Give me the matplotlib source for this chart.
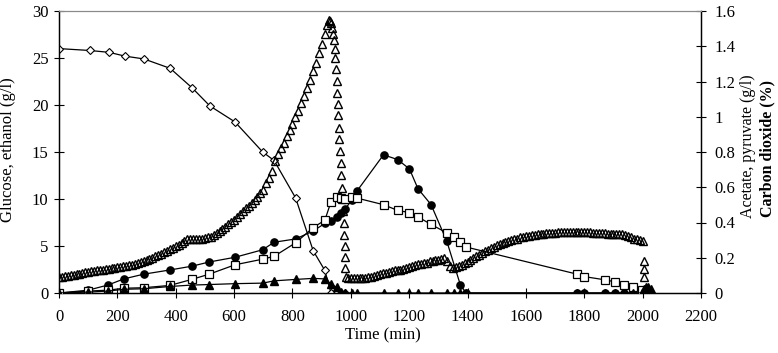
import numpy as np
import matplotlib
matplotlib.use("Agg")
import matplotlib.pyplot as plt

# ---------------- data ----------------
# sampling times (min) for off-line analyses
t_gluc = [0, 105, 172, 226, 291, 381, 457, 517, 603, 698, 737, 811, 871, 911, 932, 951, 966, 980]
glucose = [26.0, 25.8, 25.6, 25.2, 24.9, 23.9, 21.8, 19.9, 18.2, 15.0, 14.1, 10.1, 4.5, 2.4, 0, 0, 0, 0]

t_eth = [0, 100, 168, 222, 290, 380, 455, 515, 603, 698, 737, 811, 871, 911, 932, 951, 966, 980,
         1003, 1020, 1112, 1160, 1201, 1230, 1275, 1329, 1375, 1395,
         1775, 1800, 1870, 1904, 1935, 1967, 1998]
ethanol = [0, 0.3, 0.85, 1.5, 2.0, 2.45, 2.85, 3.3, 3.8, 4.6, 5.4, 5.75, 6.6, 7.4, 7.7, 8.05, 8.5, 8.9,
           9.9, 10.8, 14.7, 14.2, 13.2, 11.1, 9.4, 5.5, 0.9, 0,
           0, 0, 0, 0, 0, 0, 0]

t_ace = [0, 100, 168, 222, 290, 380, 455, 515, 603, 698, 737, 811, 871, 911, 932, 951, 966, 980,
         1003, 1020, 1112, 1160, 1201, 1230, 1275, 1329, 1352, 1375, 1395,
         1775, 1800, 1870, 1904, 1935, 1967, 1998]
acetate = [0, 0.011, 0.016, 0.027, 0.030, 0.043, 0.077, 0.107, 0.160, 0.192, 0.208, 0.285, 0.371, 0.413,
           0.517, 0.544, 0.539, 0.533, 0.544, 0.539, 0.501, 0.469, 0.456, 0.432, 0.389, 0.341, 0.315,
           0.288, 0.261, 0.107, 0.093, 0.075, 0.064, 0.045, 0.032, 0.016]

t_pyr = [0, 100, 168, 222, 290, 380, 455, 515, 603, 698, 737, 811, 871, 911, 932, 951, 966, 980,
         1003, 1020, 1112, 1160, 1201, 1230, 1275, 1329, 1352, 1375, 1395,
         1775, 1800, 1870, 1904, 1935, 1967, 1998, 2005, 2012, 2020, 2027]
pyruvate = [0, 0.005, 0.011, 0.021, 0.024, 0.037, 0.045, 0.048, 0.053, 0.056, 0.069, 0.077, 0.083, 0.080,
            0.051, 0.032, 0.008, 0, 0, 0, 0, 0, 0, 0, 0, 0, 0, 0, 0,
            0, 0, 0, 0, 0, 0, 0, 0.020, 0.035, 0.035, 0.025]

# on-line carbon dioxide (%) in off-gas
t_co2_a = list(range(0, 930, 10)) + [925, 929]
co2_a = [0.091, 0.093, 0.096, 0.099, 0.101, 0.104, 0.107, 0.109, 0.112, 0.117,
         0.120, 0.123, 0.125, 0.128, 0.131, 0.133, 0.136, 0.139, 0.141, 0.144,
         0.147, 0.149, 0.152, 0.155, 0.157, 0.160, 0.165, 0.171, 0.176, 0.181,
         0.187, 0.192, 0.200, 0.208, 0.216, 0.224, 0.232, 0.240, 0.248, 0.256,
         0.264, 0.272, 0.283, 0.293, 0.304, 0.309, 0.309, 0.309, 0.309, 0.309,
         0.312, 0.315, 0.320, 0.331, 0.341, 0.352, 0.365, 0.376, 0.389, 0.403,
         0.416, 0.432, 0.448, 0.464, 0.480, 0.496, 0.510, 0.530, 0.545, 0.570,
         0.587, 0.624, 0.651, 0.693, 0.747, 0.789, 0.821, 0.853, 0.891, 0.923,
         0.960, 0.997, 1.035, 1.077, 1.120, 1.163, 1.211, 1.259, 1.307, 1.360,
         1.413, 1.467, 1.520, 1.547, 1.541]
t_co2_b = [933, 937, 940, 943, 945, 947, 949, 951, 953, 955, 957, 959, 961, 963, 965,
           967, 969, 971, 973, 975, 977, 979, 980, 981, 983]
co2_b = [1.531, 1.504, 1.472, 1.435, 1.387, 1.333, 1.269, 1.205, 1.136, 1.072, 1.008, 0.939,
         0.875, 0.805, 0.736, 0.667, 0.597, 0.533, 0.464, 0.400, 0.331, 0.267, 0.203, 0.144, 0.091]
t_co2_c = list(range(990, 2001, 10))
co2_c = [0.085, 0.083, 0.083, 0.083, 0.083, 0.085, 0.085, 0.088, 0.091, 0.096,
         0.101, 0.107, 0.112, 0.115, 0.120, 0.123, 0.128, 0.131, 0.133, 0.139,
         0.144, 0.149, 0.152, 0.157, 0.163, 0.165, 0.171, 0.173, 0.179, 0.181,
         0.187, 0.189, 0.195, 0.200, 0.181, 0.155, 0.144, 0.145, 0.152, 0.160,
         0.168, 0.178, 0.188, 0.198, 0.208, 0.218, 0.228, 0.237, 0.246, 0.254,
         0.262, 0.270, 0.277, 0.283, 0.288, 0.293, 0.299, 0.304, 0.309, 0.315,
         0.320, 0.323, 0.325, 0.328, 0.331, 0.333, 0.336, 0.336, 0.339, 0.339,
         0.341, 0.341, 0.344, 0.344, 0.344, 0.347, 0.347, 0.347, 0.347, 0.347,
         0.347, 0.347, 0.344, 0.344, 0.341, 0.341, 0.339, 0.339, 0.339, 0.336,
         0.336, 0.336, 0.336, 0.336, 0.333, 0.331, 0.325, 0.317, 0.309, 0.304,
         0.299, 0.293]
t_co2_d = [2003, 2003, 2003]
co2_d = [0.183, 0.137, 0.092]

x_ticks = [0, 200, 400, 600, 800, 1000, 1200, 1400, 1600, 1800, 2000, 2200]
yl_ticks = [0, 5, 10, 15, 20, 25, 30]
yr_ticks = [0, 0.2, 0.4, 0.6, 0.8, 1.0, 1.2, 1.4, 1.6]
yr_labels = ["0", "0.2", "0.4", "0.6", "0.8", "1", "1.2", "1.4", "1.6"]

# ---------------- plot ----------------
plt.rcParams['font.family'] = ['Liberation Serif', 'DejaVu Serif']
fig = plt.figure(figsize=(7.78, 3.53), dpi=100)
ax = fig.add_axes([59/778, 60/353, 642/778, 282/353])
ax2 = ax.twinx()

lw = 0.9
ax.plot(t_gluc, glucose, color='black', lw=lw, marker='D', ms=4.0, mfc='white', mec='black', mew=0.8, zorder=3)
ax.plot(t_eth, ethanol, color='black', lw=lw, marker='o', ms=5.2, mfc='black', mec='black', zorder=4)
ax2.plot(t_ace, acetate, color='black', lw=lw, marker='s', ms=5.8, mfc='white', mec='black', mew=0.9, zorder=3)
ax2.plot(t_pyr, pyruvate, color='black', lw=lw, marker='^', ms=6.0, mfc='black', mec='black', zorder=3)
for tt, cc in [(t_co2_a, co2_a), (t_co2_b, co2_b), (t_co2_c, co2_c), (t_co2_d, co2_d)]:
    ax2.plot(tt, cc, linestyle='none', marker='^', ms=5.5, mfc='none', mec='black', mew=1.0, zorder=2)

ax.set_xlim(0, 2200)
ax.set_ylim(0, 30)
ax2.set_ylim(0, 1.6)
ax.set_xticks(x_ticks)
ax.set_yticks(yl_ticks)
ax2.set_yticks(yr_ticks)
ax2.set_yticklabels(yr_labels)

ax.tick_params(axis='both', direction='inout', length=7, width=0.8, labelsize=12, pad=4)
ax.tick_params(axis='x', pad=8)
ax2.tick_params(axis='y', direction='inout', length=7, width=0.8, labelsize=12, pad=6)

for a in (ax, ax2):
    a.spines['top'].set_color('#8a8a8a')
    a.spines['top'].set_linewidth(0.8)
    for s in ('left', 'right', 'bottom'):
        a.spines[s].set_linewidth(0.9)

fig.text(8/778, 1 - 150/353, "Glucose, ethanol (g/l)", rotation=90, ha='center', va='center', fontsize=12)
fig.text(383/778, 1 - 335/353, "Time (min)", ha='center', va='center', fontsize=12)
fig.text(748/778, 1 - 146/353, "Acetate, pyruvate (g/l)", rotation=90, ha='center', va='center', fontsize=11.5)
fig.text(767/778, 1 - 148/353, "Carbon dioxide (%)", rotation=90, ha='center', va='center', fontsize=11.5,
         fontweight='bold')

fig.savefig("out.png", dpi=100)
